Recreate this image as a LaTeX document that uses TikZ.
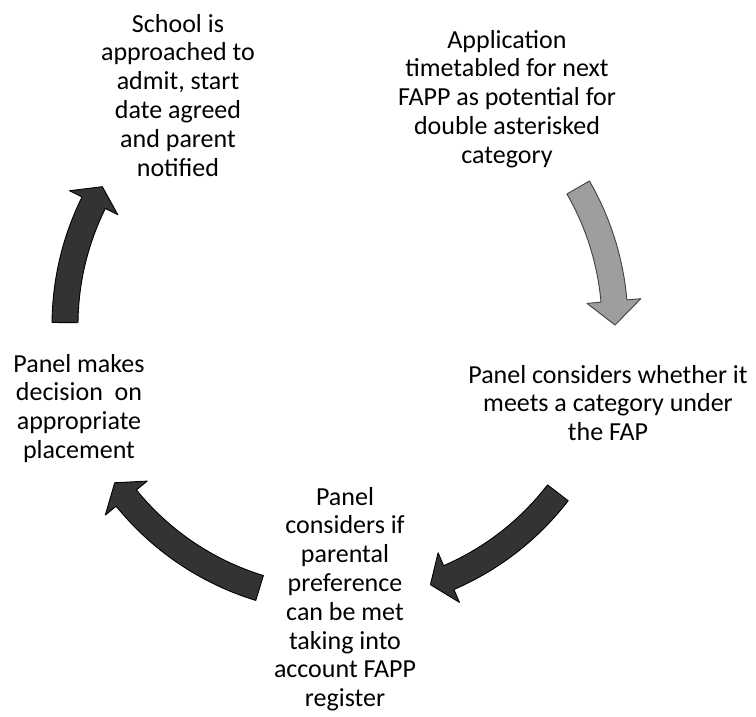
\documentclass[tikz,border=0pt]{standalone}
\usepackage{fontspec}
\setmainfont{Carlito}
\tikzset{
  cyctext/.style={anchor=base, inner sep=0pt, font=\fontsize{26}{28.8}\selectfont},
  darkarrow/.style={fill=black!80, draw=black, line width=0.9pt, line join=round},
  lightarrow/.style={fill=black!38, draw=black!75, line width=0.9pt, line join=round}
}
% #1 style, #2 tail angle, #3 head base angle, #4 tip angle
\newcommand{\cycarrow}[4]{%
  \path[#1] (#2:288pt) arc[start angle=#2, end angle=#3, radius=288pt]
    -- (#3:302pt) -- (#4:275pt) -- (#3:248pt) -- (#3:262pt)
    arc[start angle=#3, end angle=#2, radius=262pt] -- cycle;}
\begin{document}
\begin{tikzpicture}[x=1pt,y=1pt]
\useasboundingbox (0,0) rectangle (756,-716);
\fill[white] (0,0) rectangle (756,-716);

\node[cyctext] (school) at (178,-32) {\parbox[t]{300pt}{\centering School is\\approached to\\admit, start\\date agreed\\and parent\\notified}};
\node[cyctext] (appl) at (507,-48) {\parbox[t]{320pt}{\centering Application\\timetabled for next\\FAPP as potential for\\double asterisked\\category}};
\node[cyctext] (meets) at (608,-383) {\parbox[t]{320pt}{\centering Panel considers whether it\\meets a category under\\the FAP}};
\node[cyctext] (pref) at (345,-505) {\parbox[t]{300pt}{\centering Panel\\considers if\\parental\\preference\\can be met\\taking into\\account FAPP\\register}};
\node[cyctext] (decide) at (79,-372) {\parbox[t]{200pt}{\centering Panel makes\\decision~ on\\appropriate\\placement}};

\coordinate (ctr) at (340,-325);
\begin{scope}[shift={(ctr)}]
  \cycarrow{lightarrow}{30}{5}{0}
  \cycarrow{darkarrow}{-37.6}{-66.7}{-70.8}
  \cycarrow{darkarrow}{-107}{-141}{-145}
  \cycarrow{darkarrow}{179.5}{153.6}{149.8}
\end{scope}
\end{tikzpicture}
\end{document}
